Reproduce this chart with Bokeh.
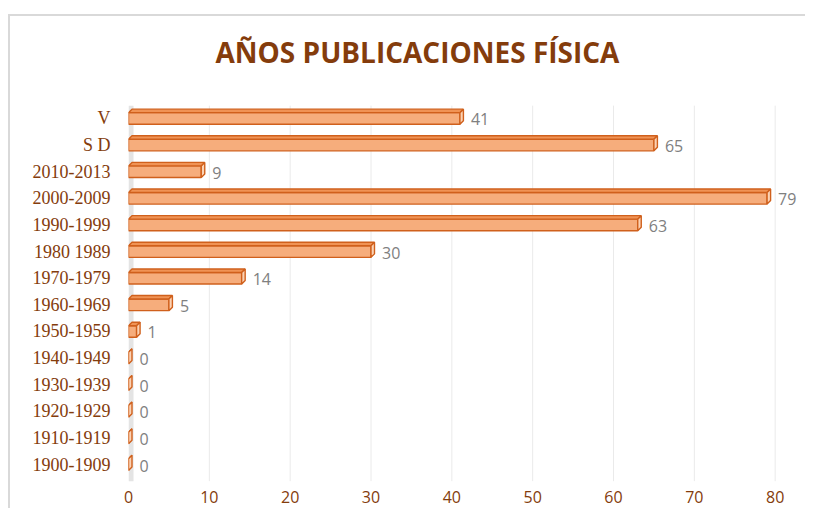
from bokeh.plotting import figure
from bokeh.models import Range1d, FixedTicker, ColumnDataSource
from bokeh.core.properties import value
from bokeh.embed import file_html
from bokeh.resources import INLINE

# ---- data (top to bottom as shown) ----
categories = ["V", "S D", "2010-2013", "2000-2009", "1990-1999", "1980 1989",
              "1970-1979", "1960-1969", "1950-1959", "1940-1949", "1930-1939",
              "1920-1929", "1910-1919", "1900-1909"]
counts = [41, 65, 9, 79, 63, 30, 14, 5, 1, 0, 0, 0, 0, 0]
x_ticks = [0, 10, 20, 30, 40, 50, 60, 70, 80]
title_text = "AÑOS PUBLICACIONES FÍSICA"

# bottom-to-top ordering for numeric positions
cats = categories[::-1]
vals = counts[::-1]
pos = list(range(len(cats)))

W, H = 797, 494
ML, MR, MT, MB = 118, 0, 68, 28
x0, x1 = 0, 84
uy = 26.7
y1 = (len(cats) - 1) + (117 - 16 - MT) / uy
y0 = y1 - (H - MT - MB) / uy
ux = (W - ML - MR) / (x1 - x0)
grid_top = (len(cats) - 1) + 0.48
grid_bot = -0.62

p = figure(width=W, height=H, output_backend="svg", toolbar_location=None,
           x_range=Range1d(x0, x1), y_range=Range1d(y0, y1),
           min_border_left=ML, min_border_right=MR, min_border_top=MT,
           min_border_bottom=MB, title=title_text)
p.margin = (14, 0, 0, 8)
p.styles = {"border-top": "2px solid #D9D9D9", "border-left": "2px solid #D9D9D9"}
p.outline_line_color = None
p.background_fill_color = "white"
p.border_fill_color = "white"

p.title.align = "left"
p.title.offset = 87
p.title.standoff = 29
p.title.text_font = "Open Sans"
p.title.text_font_style = "bold"
p.title.text_font_size = "28px"
p.title.text_color = "#843C0C"

# grid (drawn manually so it spans only the category area)
p.ygrid.grid_line_color = None
p.xgrid.grid_line_color = None
gx = x_ticks[1:]
p.segment(x0=gx, y0=[grid_bot] * len(gx), x1=gx, y1=[grid_top] * len(gx),
          line_color="#EAEAEA", line_width=1)

# back wall strip at zero
p.quad(left=[0], right=[5 / ux], bottom=[grid_bot], top=[grid_top],
       fill_color="#E4E4E4", line_color=None)

# 3D bars
hh = 5.8 / uy
dx = 3.5 / ux
dy = 3.5 / uy
front_xs, front_ys, top_xs, top_ys, side_xs, side_ys = [], [], [], [], [], []
for v, i in zip(vals, pos):
    front_xs.append([0, v, v, 0])
    front_ys.append([i - hh, i - hh, i + hh, i + hh])
    top_xs.append([0, v, v + dx, dx])
    top_ys.append([i + hh, i + hh, i + hh + dy, i + hh + dy])
    side_xs.append([v, v + dx, v + dx, v])
    side_ys.append([i - hh, i - hh + dy, i + hh + dy, i + hh])

edge = "#D0601C"
p.patches(front_xs, front_ys, fill_color="#F6AD7C", line_color=edge, line_width=1.4)
p.patches(top_xs, top_ys, fill_color="#F09355", line_color=edge, line_width=1.4)
p.patches(side_xs, side_ys, fill_color="#FBD2B4", line_color=edge, line_width=1.4)

# data labels
src = ColumnDataSource(dict(x=vals, y=pos, t=[str(v) for v in vals]))
p.text(x="x", y="y", text="t", source=src, x_offset=11, y_offset=1,
       text_font=value("Open Sans"), text_font_size="16px", text_color="#808080",
       text_baseline="middle", text_align="left")

# axes
p.yaxis.ticker = FixedTicker(ticks=pos)
p.yaxis.major_label_overrides = {i: c for i, c in zip(pos, cats)}
p.yaxis.axis_line_color = None
p.yaxis.major_tick_line_color = None
p.yaxis.minor_tick_line_color = None
p.yaxis.major_tick_out = 0
p.yaxis.major_label_standoff = 18
p.yaxis.major_label_text_font = "Liberation Serif"
p.yaxis.major_label_text_font_size = "18px"
p.yaxis.major_label_text_color = "#843C0C"

p.xaxis.ticker = FixedTicker(ticks=x_ticks)
p.xaxis.axis_line_color = None
p.xaxis.major_tick_line_color = None
p.xaxis.minor_tick_line_color = None
p.xaxis.major_tick_out = 0
p.xaxis.major_label_standoff = 8
p.xaxis.major_label_text_font = "Open Sans"
p.xaxis.major_label_text_font_size = "16px"
p.xaxis.major_label_text_color = "#843C0C"

open("out.html", "w").write(file_html(p, INLINE))
